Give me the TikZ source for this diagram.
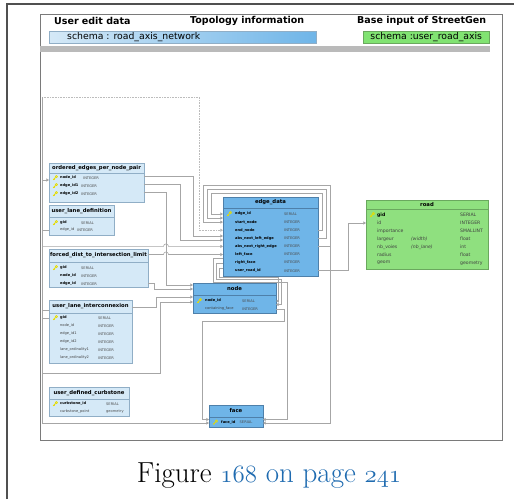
\documentclass[tikz,border=0pt]{standalone}
\usepackage{fontspec}
\newfontfamily\dv{DejaVu Sans}
\usetikzlibrary{arrows.meta}
\definecolor{tblue}{HTML}{D5E9F7}
\definecolor{tblueb}{HTML}{90AEC6}
\definecolor{mblue}{HTML}{6FB5E8}
\definecolor{mblueb}{HTML}{4E80AA}
\definecolor{rgreen}{HTML}{8FE07F}
\definecolor{rgreenb}{HTML}{6AA85E}
\definecolor{conn}{HTML}{A6A6A6}
\definecolor{capblue}{HTML}{1F6BB0}
\definecolor{keyy}{HTML}{E6DC00}
\definecolor{framec}{HTML}{505050}
\definecolor{innerc}{HTML}{7A7A7A}
\tikzset{
 hdr/.style={font=\dv\bfseries\fontsize{9.5}{11}\selectfont, inner sep=0, anchor=west},
 sch/.style={font=\dv\fontsize{9.3}{11}\selectfont, inner sep=0},
 ttl/.style={font=\dv\bfseries\fontsize{5.3}{6}\selectfont, inner sep=0},
 fb/.style={font=\dv\bfseries\fontsize{3.6}{4}\selectfont, anchor=west, inner sep=0},
 fr/.style={font=\dv\fontsize{3.6}{4}\selectfont, anchor=west, inner sep=0, text=black!75},
 fty/.style={font=\dv\fontsize{3.6}{4}\selectfont, anchor=west, inner sep=0, text=black!70},
 rb/.style={font=\dv\bfseries\fontsize{4.6}{5}\selectfont, anchor=west, inner sep=0},
 rr/.style={font=\dv\fontsize{4.6}{5}\selectfont, anchor=west, inner sep=0, text=black!75},
 ri/.style={font=\dv\itshape\fontsize{4.6}{5}\selectfont, anchor=west, inner sep=0, text=black!75},
 ln/.style={draw=conn, line width=0.6pt},
 fk/.style={draw=conn, line width=0.6pt, -{Triangle[length=2.6pt,width=3pt,fill=conn]}},
}
\newcommand\dbt[9]{%
 \node[draw=#8, fill=#7, line width=.5pt, minimum width=#4pt, minimum height=#5pt, anchor=north west, inner sep=0, outer sep=0] (#1) at (#2,#3) {};
 \draw[#8, line width=.4pt] (#2,{#3+#6}) -- ({#2+#4},{#3+#6});
 \node[ttl] (#1-t) at ({#2+#4/2},{#3+#6/2}) {#9};}
\newcommand\keyic[2]{%
 \draw[keyy, line width=0.8pt] ({#1-1.8},{#2+1.8}) -- ({#1+0.6},{#2-0.6});
 \draw[keyy, line width=0.6pt] ({#1+1.4},{#2-1.4}) circle (1.1);
 \draw[keyy, line width=0.5pt] ({#1-1},{#2+1}) -- ({#1-0.2},{#2+1.8});}
\newcommand\osn[1]{{\usefont{OML}{cmm}{m}{it}#1}}
\begin{document}
\begin{tikzpicture}[x=1pt,y=-1pt]
\useasboundingbox (0,0) rectangle (514,499);
% frames
\draw[framec, line width=1.2pt] (7,499) -- (7,4) -- (514,4);
\draw[innerc, line width=1pt] (40,14) rectangle (502,440);
% headers
\node[hdr] (h1) at (54,21) {User edit data};
\node[hdr] (h2) at (190,21) {Topology information};
\node[hdr] (h3) at (357,21) {Base input of StreetGen};
\node[draw=tblueb, line width=.5pt, left color=tblue, right color=mblue, minimum width=267pt, minimum height=12pt, anchor=north west, inner sep=0] (s1) at (49,31) {};
\node[sch, anchor=west] (s1t) at (67,37) {schema : road\_axis\_network};
\node[draw=rgreenb, line width=.5pt, fill=rgreen!90!green, minimum width=126pt, minimum height=12pt, anchor=north west, inner sep=0] (s2) at (363,31) {};
\node[sch] (s2t) at (s2.center) {schema :user\_road\_axis};
\fill[black!27] (40,46) rectangle (490,52);

% connectors
\coordinate (sp) at (42,97);
\draw[draw=conn!75, line width=0.6pt, dash pattern=on 0.8pt off 0.8pt, -{Triangle[length=2.6pt,width=3pt,fill=conn]}] (sp) -- (199,97) -- (199,230.2) -- (223,230.2);
\coordinate (spb) at (42,423);
\draw[ln] (sp) -- (spb);
\coordinate (l1) at (193,236);
\coordinate (l2) at (180,240);
\coordinate (l3) at (166,285);

% tables (user edit data)
\dbt{oe}{49}{163}{95}{39}{10}{tblue}{tblueb}{ordered\_edges\_per\_node\_pair}
\keyic{55}{178}\node[fb] at (60,178) {node\_id}; \node[fty] at (83,178) {INTEGER};
\keyic{55}{186}\node[fb] at (60,186) {edge\_id1}; \node[fty] at (81,186) {INTEGER};
\keyic{55}{194}\node[fb] at (60,194) {edge\_id2}; \node[fty] at (81,194) {INTEGER};

\dbt{uld}{49}{205}{65}{30}{12}{tblue}{tblueb}{user\_lane\_definition}
\keyic{55}{223}\node[fb] at (60,223) {gid}; \node[fty] at (81,223) {SERIAL};
\node[fr] at (60,230) {edge\_id}; \node[fty] at (77,230) {INTEGER};

\dbt{fd}{49}{249}{99}{38}{13}{tblue}{tblueb}{forced\_dist\_to\_intersection\_limit}
\keyic{55}{268}\node[fb] at (60,268) {gid}; \node[fty] at (81,268) {SERIAL};
\node[fb] at (60,276) {node\_id}; \node[fty] at (81,276) {INTEGER};
\node[fb] at (60,284) {edge\_id}; \node[fty] at (81,284) {INTEGER};

\dbt{uli}{49}{300}{83}{63}{13}{tblue}{tblueb}{user\_lane\_interconnexion}
\keyic{55}{318}\node[fb] at (60,318) {gid}; \node[fty] at (98,318) {SERIAL};
\node[fr] at (60,326) {node\_id}; \node[fty] at (98,326) {INTEGER};
\node[fr] at (60,334) {edge\_id1}; \node[fty] at (98,334) {INTEGER};
\node[fr] at (60,342) {edge\_id2}; \node[fty] at (98,342) {INTEGER};
\node[fr] at (60,350) {lane\_ordinality1}; \node[fty] at (98,350) {INTEGER};
\node[fr] at (60,358) {lane\_ordinality2}; \node[fty] at (98,358) {INTEGER};

\dbt{udc}{49}{387}{80}{29}{12}{tblue}{tblueb}{user\_defined\_curbstone}
\keyic{55}{404}\node[fb] at (60,404) {curbstone\_id}; \node[fty] at (106,404) {SERIAL};
\node[fr] at (60,412) {curbstone\_point}; \node[fty] at (106,412) {geometry};

% topology tables
\dbt{ed}{223}{197}{95}{79}{11}{mblue}{mblueb}{edge\_data}
\keyic{229}{214}
\node[fb] at (235,214) {edge\_id}; \node[fty] at (284,214) {SERIAL};
\node[fb] at (235,222.1) {start\_node}; \node[fty] at (284,222.1) {INTEGER};
\node[fb] at (235,230.2) {end\_node}; \node[fty] at (284,230.2) {INTEGER};
\node[fb] at (235,238.3) {abs\_next\_left\_edge}; \node[fty] at (284,238.3) {INTEGER};
\node[fb] at (235,246.4) {abs\_next\_right\_edge}; \node[fty] at (284,246.4) {INTEGER};
\node[fb] at (235,254.5) {left\_face}; \node[fty] at (284,254.5) {INTEGER};
\node[fb] at (235,262.6) {right\_face}; \node[fty] at (284,262.6) {INTEGER};
\node[fb] at (235,270.7) {user\_road\_id}; \node[fty] at (284,270.7) {INTEGER};

\dbt{nd}{193}{283}{83}{30}{12}{mblue}{mblueb}{node}
\keyic{199}{301}\node[fb] at (205,301) {node\_id}; \node[fty] at (242,301) {SERIAL};
\node[fr] at (205,309) {containing\_face}; \node[fty] at (242,309) {INTEGER};

\dbt{fc}{209}{405}{54}{22}{12}{mblue}{mblueb}{face}
\keyic{215}{422.5}\node[fb] at (221,422.5) {face\_id}; \node[fty] at (239.5,422.5) {SERIAL};

% road
\dbt{rd}{366}{200}{122}{69}{9}{rgreen}{rgreenb}{road}
\keyic{372}{215}\node[rb] at (377,215) {gid}; \node[rr] at (460,215) {SERIAL};
\node[rr] at (377,223) {id}; \node[rr] at (460,223) {INTEGER};
\node[rr] at (377,231) {importance}; \node[rr] at (460,231) {SMALLINT};
\node[rr] at (377,239) {largeur}; \node[ri] at (411,239) {(width)}; \node[rr] at (460,239) {float};
\node[rr] at (377,247) {nb\_voies}; \node[ri] at (411,247) {(nb\_lane)}; \node[rr] at (460,247) {int};
\node[rr] at (377,255) {radius}; \node[rr] at (460,255) {float};
\node[rr] at (377,263) {geom}; \node[rr] at (460,263) {geometry};

% spine connections
\draw[fk] (spb) -- (fc.west |- 0,423);
\draw[fk] (42,180) -- (oe.west |- 0,180);
\draw[ln] (42,230) -- (uld.west |- 0,230);
\draw[ln] (42,310) -- (uli.west |- 0,310);
\draw[ln] (42,318) -- (uli.west |- 0,318);
\draw[fk] (42,246.4) -- (163.5,246.4) arc[start angle=180, end angle=360, radius=2.5] -- (ed.west |- 0,246.4);
\draw[fk] (42,373) -- (160,373) -- (160,302) -- (nd.west |- 0,302);
% user tables to topology
\draw[fk] (fd.east |- 0,254.5) -- (163.5,254.5) arc[start angle=180, end angle=360, radius=2.5] -- (ed.west |- 0,254.5);
\draw[fk] (oe.east |- 0,176) -- (l1 |- 0,176) -- (l1) -- (ed.west |- l1);
\draw[fk] (oe.east |- 0,184) -- (l2 |- 0,184) -- (l2) -- (ed.west |- l2);
\draw[fk] (oe.east |- 0,192) -- (l3 |- 0,192) -- (l3) -- (nd.west |- l3);
\draw[fk] (fd.east |- 0,283) -- (154,283) -- (154,289) -- (nd.west |- 0,289);
\draw[fk] (uli.east |- 0,307) -- (156,307) -- (156,297) -- (nd.west |- 0,297);
% edge_data self references
\draw[fk] (ed.east |- 0,230.2) -- (322,230.2) -- (322,193) -- (211,193) -- (211,214) -- (ed.west |- 0,214);
\draw[fk] (ed.east |- 0,238.3) -- (326,238.3) -- (326,189) -- (207,189) -- (207,218) -- (ed.west |- 0,218);
\coordinate (jn) at (330,246.4);
\draw[fk] (ed.east |- 0,246.4) -- (jn) -- (330,185) -- (203,185) -- (203,222.1) -- (ed.west |- 0,222.1);
\draw[fk] (jn) -- (330,423) -- (fc.east |- 0,423);
% edge_data to node / face
\draw[fk] (ed.west |- 0,258) -- (213,258) -- (213,282) -- (287,282) -- (287,419.5) -- (fc.east |- 0,419.5);
\draw[fk] (ed.west |- 0,263) -- (216,263) -- (216,279.5) -- (281,279.5) -- (281,304.5) -- (nd.east |- 0,304.5);
\draw[fk] (ed.west |- 0,268) -- (219,268) -- (219,277.2) -- (278,277.2) -- (278,301) -- (nd.east |- 0,301);
% node to face
\draw[fk] (nd.east |- 0,309) -- (284,309) -- (284,321) -- (202,321) -- (202,419.5) -- (fc.west |- 0,419.5);
% edge_data to road
\draw[fk] (ed.east |- 0,270.7) -- (348,270.7) -- (348,223) -- (rd.west |- 0,223);

% caption
\node[font=\fontsize{29}{34}\selectfont, anchor=base, inner sep=0] (cap) at (269,482) {Figure \textcolor{capblue}{\osn{168} on page \osn{241}}};
\end{tikzpicture}
\end{document}
